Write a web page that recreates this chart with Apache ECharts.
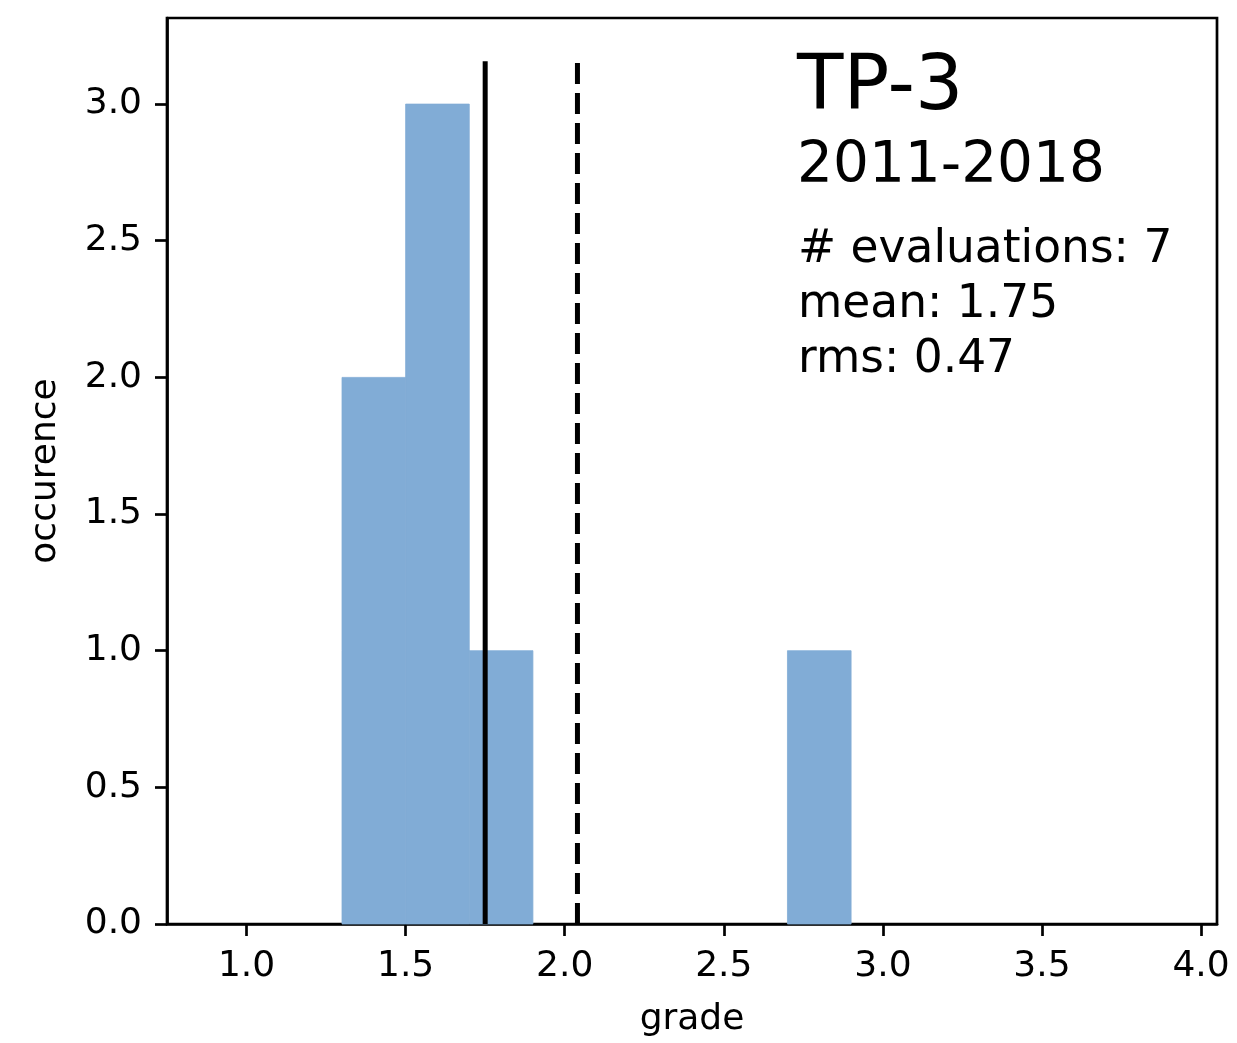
<!DOCTYPE html>
<html>
<head>
<meta charset="utf-8">
<script src="https://cdn.jsdelivr.net/npm/echarts@6/dist/echarts.min.js"></script>
<style>
html,body{margin:0;padding:0;background:#fff;}
#chart{width:1237px;height:1043px;}
</style>
</head>
<body>
<div id="chart"></div>
<script>
// Histogram data
var binStarts = [1.3, 1.5, 1.7, 2.7];
var binEnds   = [1.5, 1.7, 1.9, 2.9];
var counts    = [2, 3, 1, 1];
// Vertical reference lines
var meanValue = 1.75;
var dashedValue = 2.04;
var lineTop = 3.157;
// Ticks
var xTicks = [1.0, 1.5, 2.0, 2.5, 3.0, 3.5, 4.0];
var yTicks = [0.0, 0.5, 1.0, 1.5, 2.0, 2.5, 3.0];
// Texts
var titleText = 'TP-3';
var periodText = '2011-2018';
var statLines = ['# evaluations: 7', 'mean: 1.75', 'rms: 0.47'];

var FONT = '"DejaVu Sans", sans-serif';
var histData = binStarts.map(function (s, i) { return [s, binEnds[i], counts[i]]; });

var chart = echarts.init(document.getElementById('chart'), null, {renderer: 'canvas'});
var BAR = '#81acd6';
var option = {
  animation: false,
  backgroundColor: '#fff',
  grid: {
    left: 167, top: 18, right: 20, bottom: 119,
    show: true, borderColor: '#000', borderWidth: 2.7, backgroundColor: 'transparent'
  },
  xAxis: {
    type: 'value', min: 0.75, max: 4.05,
    name: 'grade', nameLocation: 'middle', nameGap: 78,
    nameTextStyle: {fontFamily: FONT, fontSize: 36, color: '#000'},
    axisLine: {show: true, onZero: false, lineStyle: {color: '#000', width: 2.7}},
    axisTick: {show: true, length: 12, lineStyle: {color: '#000', width: 2.7}, customValues: xTicks},
    axisLabel: {
      margin: 25, fontFamily: FONT, fontSize: 36, color: '#000',
      customValues: xTicks,
      formatter: function (v) { return v.toFixed(1); }
    },
    splitLine: {show: false}
  },
  yAxis: {
    type: 'value', min: 0, max: 3.315,
    name: 'occurence', nameLocation: 'middle', nameGap: 103,
    nameTextStyle: {fontFamily: FONT, fontSize: 36, color: '#000'},
    axisLine: {show: true, onZero: false, lineStyle: {color: '#000', width: 2.7}},
    axisTick: {show: true, length: 12, lineStyle: {color: '#000', width: 2.7}, customValues: yTicks},
    axisLabel: {
      margin: 25, fontFamily: FONT, fontSize: 36, color: '#000',
      customValues: yTicks,
      formatter: function (v) { return v.toFixed(1); }
    },
    splitLine: {show: false}
  },
  series: [
    {
      type: 'custom',
      data: histData,
      renderItem: function (params, api) {
        var p0 = api.coord([api.value(0), api.value(2)]);
        var p1 = api.coord([api.value(1), 0]);
        return {
          type: 'rect',
          shape: {x: p0[0], y: p0[1], width: p1[0] - p0[0], height: p1[1] - p0[1]},
          style: {fill: BAR, stroke: BAR, lineWidth: 0.8}
        };
      },
      encode: {x: [0, 1], y: 2},
      z: 2
    },
    {
      type: 'line',
      data: [[meanValue, 0], [meanValue, lineTop]],
      symbol: 'none',
      lineStyle: {color: '#000', width: 5, cap: 'butt'},
      z: 3
    },
    {
      type: 'line',
      data: [[dashedValue, 0], [dashedValue, lineTop]],
      symbol: 'none',
      lineStyle: {color: '#000', width: 5, type: [21, 9], cap: 'butt'},
      z: 3
    }
  ],
  graphic: [
    {type: 'text', x: 797, y: 89, style: {text: titleText, font: '76px ' + FONT, fill: '#000', verticalAlign: 'middle'}},
    {type: 'text', x: 797, y: 167, style: {text: periodText, font: '56.5px ' + FONT, fill: '#000', verticalAlign: 'middle'}},
    {type: 'text', x: 798, y: 250, style: {text: statLines[0], font: '45.5px ' + FONT, fill: '#000', verticalAlign: 'middle'}},
    {type: 'text', x: 798, y: 305, style: {text: statLines[1], font: '45.5px ' + FONT, fill: '#000', verticalAlign: 'middle'}},
    {type: 'text', x: 798, y: 360, style: {text: statLines[2], font: '45.5px ' + FONT, fill: '#000', verticalAlign: 'middle'}}
  ]
};
chart.setOption(option);
</script>
</body>
</html>
